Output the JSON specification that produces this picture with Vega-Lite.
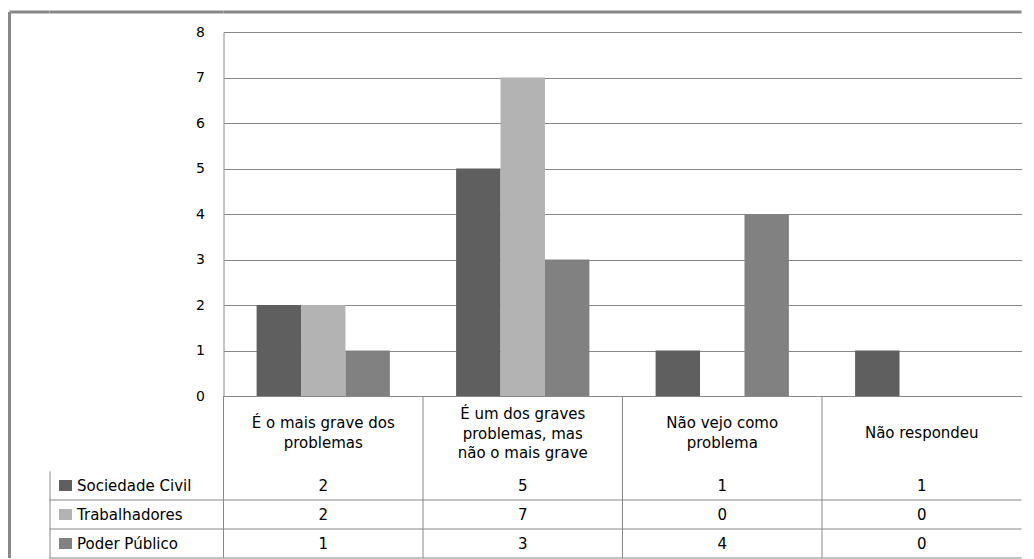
{
  "$schema": "https://vega.github.io/schema/vega-lite/v6.json",
  "background": "white",
  "padding": {"left": 7.5, "top": 10, "right": 0, "bottom": 0},
  "config": {"view": {"stroke": null}, "font": "DejaVu Sans"},
  "datasets": {
    "valores": [
      {"categoria": "É o mais grave dos problemas", "grupo": "Sociedade Civil", "valor": 2},
      {"categoria": "É o mais grave dos problemas", "grupo": "Trabalhadores", "valor": 2},
      {"categoria": "É o mais grave dos problemas", "grupo": "Poder Público", "valor": 1},
      {"categoria": "É um dos graves problemas, mas não o mais grave", "grupo": "Sociedade Civil", "valor": 5},
      {"categoria": "É um dos graves problemas, mas não o mais grave", "grupo": "Trabalhadores", "valor": 7},
      {"categoria": "É um dos graves problemas, mas não o mais grave", "grupo": "Poder Público", "valor": 3},
      {"categoria": "Não vejo como problema", "grupo": "Sociedade Civil", "valor": 1},
      {"categoria": "Não vejo como problema", "grupo": "Trabalhadores", "valor": 0},
      {"categoria": "Não vejo como problema", "grupo": "Poder Público", "valor": 4},
      {"categoria": "Não respondeu", "grupo": "Sociedade Civil", "valor": 1},
      {"categoria": "Não respondeu", "grupo": "Trabalhadores", "valor": 0},
      {"categoria": "Não respondeu", "grupo": "Poder Público", "valor": 0}
    ],
    "categorias": [
      {"categoria": "É o mais grave dos problemas", "rotulo": "É o mais grave dos\nproblemas"},
      {"categoria": "É um dos graves problemas, mas não o mais grave", "rotulo": "É um dos graves\nproblemas, mas\nnão o mais grave"},
      {"categoria": "Não vejo como problema", "rotulo": "Não vejo como\nproblema"},
      {"categoria": "Não respondeu", "rotulo": "Não respondeu"}
    ],
    "grupos": [
      {"grupo": "Sociedade Civil"},
      {"grupo": "Trabalhadores"},
      {"grupo": "Poder Público"}
    ]
  },
  "columns": 3,
  "spacing": 0,
  "bounds": "flush",
  "resolve": {"scale": {"x": "independent", "y": "independent"}},
  "concat": [
    {
      "width": 40, "height": 20,
      "data": {"values": [{}]},
      "mark": {"type": "text"},
      "encoding": {"text": {"value": ""}},
      "view": {"stroke": "#888888", "strokeWidth": 3, "strokeDash": [40, 60, 20, 0]}
    },
    {
      "width": 174, "height": 20,
      "data": {"values": [{}]},
      "mark": {"type": "text"},
      "encoding": {"text": {"value": ""}},
      "view": {"stroke": "#888888", "strokeWidth": 3, "strokeDash": [174, 214]}
    },
    {
      "width": 798, "height": 20,
      "data": {"values": [{}]},
      "mark": {"type": "text"},
      "encoding": {"text": {"value": ""}},
      "view": {"stroke": "#888888", "strokeWidth": 3, "strokeDash": [798, 838]}
    },
    {
      "width": 40, "height": 364,
      "data": {"values": [{}]},
      "mark": {"type": "text"},
      "encoding": {"text": {"value": ""}},
      "view": {"stroke": "#888888", "strokeWidth": 3, "strokeDash": [0, 444, 364, 0]}
    },
    {
      "width": 174, "height": 364,
      "data": {"values": [{}]},
      "mark": {"type": "text"},
      "encoding": {"text": {"value": ""}}
    },
    {
      "width": 798, "height": 364,
      "data": {"name": "valores"},
      "mark": {"type": "bar"},
      "encoding": {
        "x": {
          "field": "categoria", "type": "nominal",
          "scale": {"domain": ["É o mais grave dos problemas", "É um dos graves problemas, mas não o mais grave", "Não vejo como problema", "Não respondeu"], "paddingInner": 0, "paddingOuter": 0},
          "axis": null
        },
        "xOffset": {
          "field": "grupo", "type": "nominal",
          "scale": {"domain": ["Sociedade Civil", "Trabalhadores", "Poder Público"], "paddingInner": 0, "paddingOuter": 0.745}
        },
        "y": {
          "field": "valor", "type": "quantitative",
          "scale": {"domain": [0, 8], "nice": false},
          "axis": {
            "values": [0, 1, 2, 3, 4, 5, 6, 7, 8],
            "title": null, "grid": true, "gridColor": "#888888", "gridWidth": 1,
            "domain": true, "domainColor": "#888888", "ticks": false,
            "labelPadding": 19, "labelFontSize": 14, "labelColor": "#000000", "labelFont": "DejaVu Sans"
          }
        },
        "color": {
          "field": "grupo", "type": "nominal",
          "scale": {"domain": ["Sociedade Civil", "Trabalhadores", "Poder Público"], "range": ["#5f5f5f", "#b3b3b3", "#818181"]},
          "legend": null
        }
      }
    },
    {
      "width": 40, "height": 75,
      "data": {"values": [{}]},
      "mark": {"type": "text"},
      "encoding": {"text": {"value": ""}},
      "view": {"stroke": "#888888", "strokeWidth": 3, "strokeDash": [0, 155, 75, 0]}
    },
    {
      "width": 174, "height": 75,
      "data": {"values": [{}]},
      "mark": {"type": "text"},
      "encoding": {"text": {"value": ""}}
    },
    {
      "width": 798, "height": 75,
      "layer": [
        {
          "data": {"name": "categorias"},
          "transform": [{"filter": "datum.categoria === 'É um dos graves problemas, mas não o mais grave'"}],
          "mark": {"type": "text", "lineBreak": "\n", "lineHeight": 19.5, "fontSize": 15, "color": "#000000", "baseline": "middle", "font": "DejaVu Sans", "dy": -19.5},
          "encoding": {
            "x": {
              "field": "categoria", "type": "nominal",
              "scale": {"domain": ["É o mais grave dos problemas", "É um dos graves problemas, mas não o mais grave", "Não vejo como problema", "Não respondeu"], "paddingInner": 0, "paddingOuter": 0},
              "axis": null
            },
            "text": {"field": "rotulo", "type": "nominal"}
          }
        },
        {
          "data": {"name": "categorias"},
          "transform": [{"filter": "datum.categoria === 'É o mais grave dos problemas' || datum.categoria === 'Não vejo como problema'"}],
          "mark": {"type": "text", "lineBreak": "\n", "lineHeight": 19.5, "fontSize": 15, "color": "#000000", "baseline": "middle", "font": "DejaVu Sans", "dy": -10.5},
          "encoding": {
            "x": {"field": "categoria", "type": "nominal", "axis": null},
            "text": {"field": "rotulo", "type": "nominal"}
          }
        },
        {
          "data": {"name": "categorias"},
          "transform": [{"filter": "datum.categoria === 'Não respondeu'"}],
          "mark": {"type": "text", "lineBreak": "\n", "lineHeight": 19.5, "fontSize": 15, "color": "#000000", "baseline": "middle", "font": "DejaVu Sans", "dy": -1},
          "encoding": {
            "x": {"field": "categoria", "type": "nominal", "axis": null},
            "text": {"field": "rotulo", "type": "nominal"}
          }
        },
        {
          "data": {"name": "categorias"},
          "mark": {"type": "rule", "color": "#888888", "strokeWidth": 1},
          "encoding": {
            "x": {"field": "categoria", "type": "nominal", "bandPosition": 0, "axis": null}
          }
        }
      ]
    },
    {
      "width": 40, "height": 87,
      "data": {"values": [{}]},
      "mark": {"type": "text"},
      "encoding": {"text": {"value": ""}},
      "view": {"stroke": "#888888", "strokeWidth": 3, "strokeDash": [0, 167, 87, 0]}
    },
    {
      "width": 174, "height": 87,
      "data": {"name": "grupos"},
      "mark": {"type": "rule", "color": "#888888", "strokeWidth": 1},
      "encoding": {
        "y": {
          "field": "grupo", "type": "nominal", "bandPosition": 1,
          "scale": {"domain": ["Sociedade Civil", "Trabalhadores", "Poder Público"], "paddingInner": 0, "paddingOuter": 0},
          "axis": {
            "orient": "left", "offset": -22, "title": null, "domain": false, "grid": false,
            "ticks": true, "tickSize": 13, "tickWidth": 11,
            "tickColor": {"condition": [{"test": "datum.value === 'Sociedade Civil'", "value": "#5f5f5f"}, {"test": "datum.value === 'Trabalhadores'", "value": "#b3b3b3"}], "value": "#818181"},
            "labelAlign": "left", "labelPadding": -18, "labelFontSize": 15, "labelColor": "#000000", "labelFont": "DejaVu Sans", "labelLimit": 0
          }
        }
      },
      "view": {"stroke": "#888888", "strokeWidth": 1, "strokeDash": [0, 435, 87, 0]}
    },
    {
      "width": 798, "height": 87,
      "layer": [
        {
          "data": {"name": "valores"},
          "mark": {"type": "text", "fontSize": 15, "color": "#000000", "font": "DejaVu Sans"},
          "encoding": {
            "x": {
              "field": "categoria", "type": "nominal",
              "scale": {"domain": ["É o mais grave dos problemas", "É um dos graves problemas, mas não o mais grave", "Não vejo como problema", "Não respondeu"], "paddingInner": 0, "paddingOuter": 0},
              "axis": null
            },
            "y": {
              "field": "grupo", "type": "nominal",
              "scale": {"domain": ["Sociedade Civil", "Trabalhadores", "Poder Público"], "paddingInner": 0, "paddingOuter": 0},
              "axis": null
            },
            "text": {"field": "valor", "type": "quantitative"}
          }
        },
        {
          "data": {"name": "categorias"},
          "mark": {"type": "rule", "color": "#888888", "strokeWidth": 1},
          "encoding": {
            "x": {"field": "categoria", "type": "nominal", "bandPosition": 0, "axis": null}
          }
        },
        {
          "data": {"name": "grupos"},
          "mark": {"type": "rule", "color": "#888888", "strokeWidth": 1},
          "encoding": {
            "y": {"field": "grupo", "type": "nominal", "bandPosition": 1, "axis": null}
          }
        }
      ]
    }
  ]
}
